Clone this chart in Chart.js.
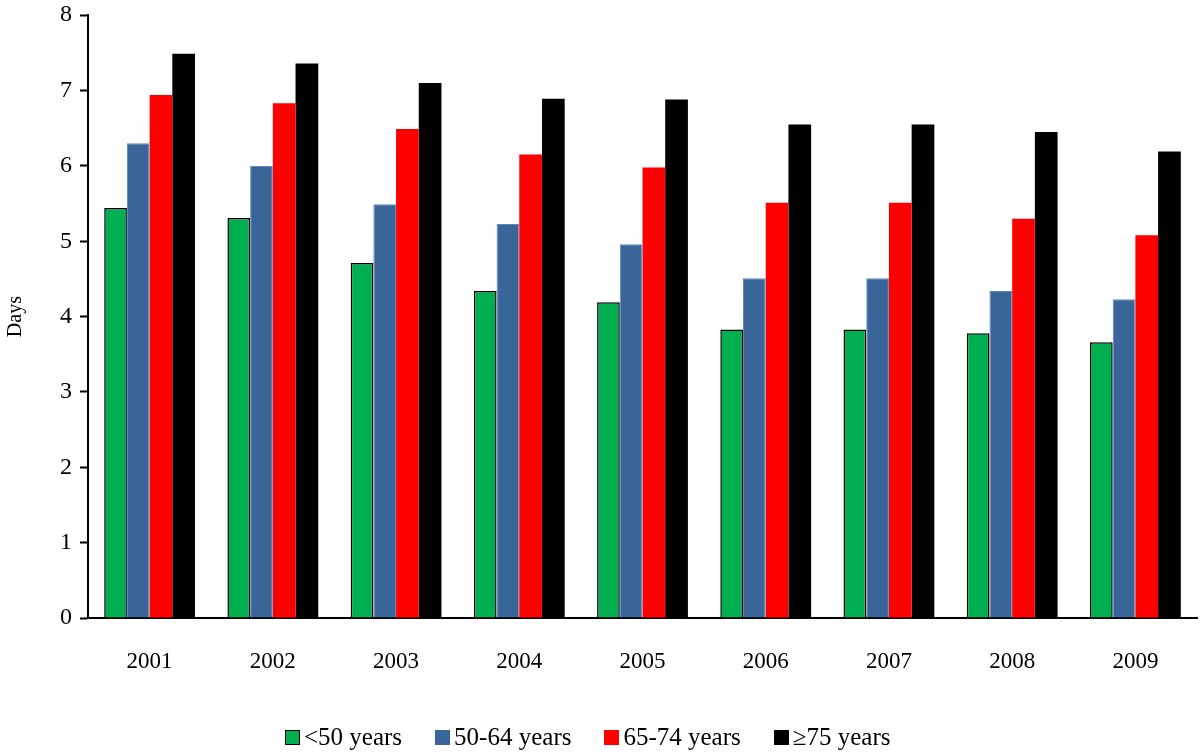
<!DOCTYPE html>
<html>
<head>
<meta charset="utf-8">
<script src="https://cdn.jsdelivr.net/npm/chart.js@4/dist/chart.umd.min.js"></script>
<style>
  html, body { margin: 0; padding: 0; background: #fff; }
  #wrap { position: relative; width: 1200px; height: 753px; }
  #legend {
    position: absolute; left: 285px; top: 721px; height: 32px;
    display: flex; align-items: center;
    font-family: 'Liberation Serif', 'Times New Roman', serif; font-size: 25px; color: #000;
  }
  #legend .item { display: flex; align-items: center; margin-right: 33px; white-space: nowrap; }
  #legend .box { display: inline-block; width: 15px; height: 15px; margin-right: 4px; box-sizing: border-box; }
</style>
</head>
<body>
<div id="wrap">
  <canvas id="chart"></canvas>
  <div id="legend"></div>
</div>
<script>
"use strict";
const years = ["2001", "2002", "2003", "2004", "2005", "2006", "2007", "2008", "2009"];
const under50 = [5.44, 5.31, 4.71, 4.34, 4.19, 3.83, 3.83, 3.78, 3.66];
const age50to64 = [6.30, 6.00, 5.49, 5.23, 4.96, 4.51, 4.51, 4.34, 4.23];
const age65to74 = [6.94, 6.83, 6.49, 6.15, 5.98, 5.51, 5.51, 5.30, 5.08];
const age75plus = [7.49, 7.36, 7.10, 6.89, 6.88, 6.55, 6.55, 6.45, 6.19];
const seriesNames = ["<50 years", "50-64 years", "65-74 years", "\u226575 years"];
const seriesColors = ["#00b050", "#3a6598", "#ff0000", "#000000"];

const serif = "'Liberation Serif', 'Times New Roman', serif";

const ctx = document.getElementById("chart");
const chart = new Chart(ctx, {
  type: "bar",
  data: {
    labels: years,
    datasets: [
      { label: seriesNames[0], data: under50, backgroundColor: seriesColors[0], borderColor: "#000", borderWidth: 1.5 },
      { label: seriesNames[1], data: age50to64, backgroundColor: seriesColors[1], borderColor: "#5d86bd", borderWidth: 1 },
      { label: seriesNames[2], data: age65to74, backgroundColor: seriesColors[2], borderWidth: 0 },
      { label: seriesNames[3], data: age75plus, backgroundColor: seriesColors[3], borderWidth: 0 },
    ],
  },
  options: {
    responsive: true,
    maintainAspectRatio: false,
    animation: false,
    layout: { padding: { left: 0, right: 3, top: 0, bottom: 0 } },
    datasets: { bar: { categoryPercentage: 0.737, barPercentage: 1.0 } },
    plugins: {
      tooltip: { enabled: false },
      legend: { display: false },
    },
    scales: {
      x: {
        grid: { display: true, drawOnChartArea: false, drawTicks: false },
        border: { color: "#000", width: 2 },
        ticks: { color: "#000", font: { family: serif, size: 23 }, padding: 30 },
        afterFit: (scale) => { scale.height = 135; },
      },
      y: {
        min: 0,
        max: 8,
        grid: { display: true, drawOnChartArea: false, drawTicks: true, tickLength: 8, color: "#000", tickWidth: 2 },
        border: { color: "#000", width: 2 },
        ticks: { stepSize: 1, color: "#000", font: { family: serif, size: 24, lineHeight: 0.6 }, padding: 8 },
        title: { display: true, text: "Days", color: "#000", font: { family: serif, size: 20 }, padding: 4 },
        afterFit: (scale) => { scale.width = 88; },
      },
    },
  },
});

// legend as html text
const legendEl = document.getElementById("legend");
chart.data.datasets.forEach((ds, i) => {
  const item = document.createElement("span");
  item.className = "item";
  const box = document.createElement("span");
  box.className = "box";
  box.style.background = seriesColors[i];
  if (i === 0) box.style.border = "1.5px solid #000";
  item.appendChild(box);
  item.appendChild(document.createTextNode(ds.label));
  legendEl.appendChild(item);
});
</script>
</body>
</html>
